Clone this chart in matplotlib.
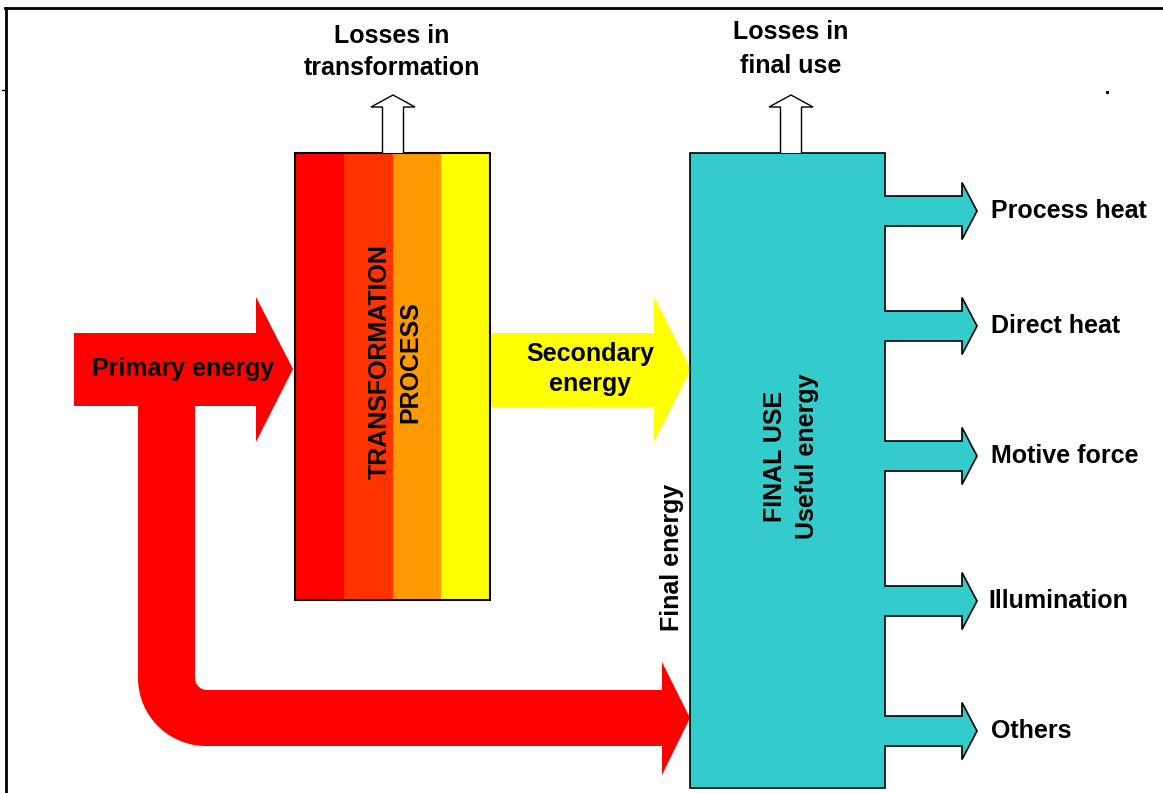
import matplotlib.pyplot as plt
import numpy as np
from matplotlib.patches import Polygon, Rectangle

plt.rcParams['font.family'] = ['Liberation Sans', 'DejaVu Sans']

# textos e dados do diagrama
end_uses = ['Process heat', 'Direct heat', 'Motive force', 'Illumination', 'Others']
end_use_y = [211, 326, 456, 601, 731]          # centro de cada seta de saida (px)
stripe_colors = ['#FF0000', '#FF3300', '#FF9900', '#FFFF00']
loss_labels = ['Losses in\ntransformation', 'Losses in\nfinal use']

RED = '#FF0000'
YELLOW = '#FFFF00'
CYAN = '#33CCCC'

fig = plt.figure(figsize=(11.63, 7.93), dpi=100)
ax = fig.add_axes([0, 0, 1, 1])
ax.set_xlim(0, 1163)
ax.set_ylim(793, 0)
ax.axis('off')

# moldura
ax.plot([5, 1163], [8, 8], color='black', lw=2)
ax.plot([6, 6], [8, 793], color='black', lw=2)
ax.plot([2, 6], [90, 90], color='black', lw=1)
ax.plot([1107], [92], marker='s', ms=1.2, color='black')


def arc(cx, cy, r, a0, a1, n=30):
    t = np.radians(np.linspace(a0, a1, n))
    return list(zip(cx + r * np.cos(t), cy + r * np.sin(t)))


# seta vermelha (energia primaria + ramo para energia final)
pts = [(74, 333), (256, 333), (256, 297), (293, 369), (256, 442), (256, 406),
       (195, 406), (195, 678)]
pts += arc(207, 678, 12, 180, 90)
pts += [(662, 690), (662, 662), (690, 718), (662, 775), (662, 746)]
pts += arc(206, 678, 68, 90, 180)
pts += [(138, 406), (74, 406)]
ax.add_patch(Polygon(pts, closed=True, facecolor=RED, edgecolor='none'))

# seta amarela (energia secundaria)
ax.add_patch(Polygon([(490, 333), (654, 333), (654, 297), (691, 369), (654, 442),
                      (654, 407), (490, 407)], closed=True,
                     facecolor=YELLOW, edgecolor='none'))

# caixa de transformacao com faixas
bx0, bx1, by0, by1 = 295, 490, 153, 600
w = (bx1 - bx0) / len(stripe_colors)
for i, c in enumerate(stripe_colors):
    ax.add_patch(Rectangle((bx0 + i * w, by0), w, by1 - by0, facecolor=c, edgecolor='none'))
ax.add_patch(Rectangle((bx0, by0), bx1 - bx0, by1 - by0, facecolor='none',
                       edgecolor='black', lw=1.5))

# caixa de uso final + setas de saida num unico contorno
fx0, fx1, fy0, fy1 = 690, 885, 153, 788
shape = [(fx0, fy0), (fx1, fy0)]
for yc in end_use_y:
    shape += [(fx1, yc - 15), (962, yc - 15), (962, yc - 28.5), (977, yc),
              (962, yc + 28.5), (962, yc + 15), (fx1, yc + 15)]
shape += [(fx1, fy1), (fx0, fy1)]
ax.add_patch(Polygon(shape, closed=True, facecolor=CYAN, edgecolor='black', lw=1.2))


# setas de perdas (brancas)
def up_arrow(xc):
    p = [(xc - 10.5, 153), (xc - 10.5, 107), (xc - 22, 107), (xc, 95),
         (xc + 22, 107), (xc + 10.5, 107), (xc + 10.5, 153)]
    ax.add_patch(Polygon(p, closed=False, facecolor='white', edgecolor='black', lw=1))


up_arrow(393)
up_arrow(791)

fs = 18
kw = dict(fontsize=fs, fontweight='bold', ha='center', va='center')
ax.text(392, 52, loss_labels[0], linespacing=1.4, **kw)
ax.text(791, 49, loss_labels[1], linespacing=1.5, **kw)
ax.text(183, 369, 'Primary energy', **kw)
ax.text(590, 369, 'Secondary\nenergy', linespacing=1.35, **kw)
ax.text(395, 362, 'TRANSFORMATION\nPROCESS', rotation=90, linespacing=1.38, **kw)
ax.text(791, 456, 'FINAL USE\nUseful energy', rotation=90, linespacing=1.38, **kw)
ax.text(672, 557, 'Final energy', rotation=90, **kw)

for lab, yc in zip(end_uses, end_use_y):
    x = 988 if lab == 'Illumination' else 991
    ax.text(x, yc, lab, fontsize=fs, fontweight='bold', ha='left', va='center')

fig.savefig('out.png', dpi=100)
